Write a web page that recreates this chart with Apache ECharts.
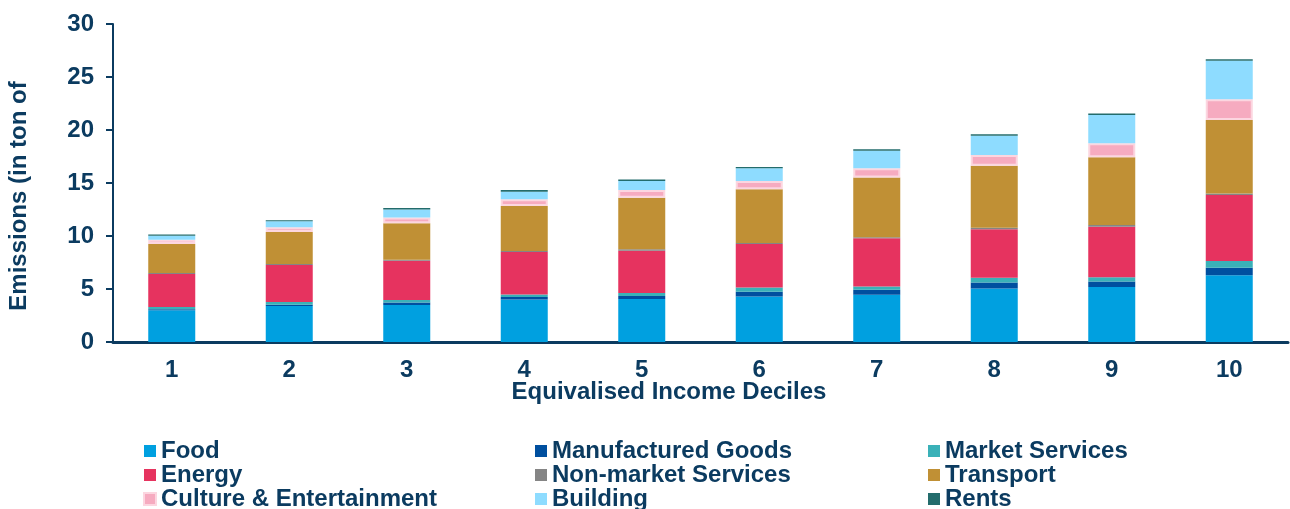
<!DOCTYPE html>
<html>
<head>
<meta charset="utf-8">
<style>
  html, body { margin: 0; padding: 0; background: #ffffff; }
  #chart { width: 1290px; height: 509px; }
</style>
<script src="https://cdn.jsdelivr.net/npm/echarts@6/dist/echarts.min.js"></script>
</head>
<body>
<div id="chart"></div>
<script>
// Household emissions by equivalised income decile, split by consumption category
const deciles = ['1', '2', '3', '4', '5', '6', '7', '8', '9', '10'];
const yTicks = { min: 0, max: 30, interval: 5 };

const food          = [3.00, 3.40, 3.50, 4.00, 4.05, 4.30, 4.45, 5.05, 5.20, 6.30];
const manufactured  = [0.10, 0.12, 0.22, 0.25, 0.30, 0.44, 0.47, 0.57, 0.50, 0.70];
const marketServ    = [0.20, 0.25, 0.25, 0.22, 0.28, 0.41, 0.31, 0.44, 0.41, 0.63];
const energy        = [3.12, 3.49, 3.70, 4.02, 3.99, 4.10, 4.55, 4.57, 4.77, 6.24];
const nonMarketServ = [0.10, 0.10, 0.10, 0.10, 0.12, 0.10, 0.10, 0.15, 0.15, 0.15];
const transport     = [2.73, 3.02, 3.43, 4.24, 4.87, 5.05, 5.65, 5.85, 6.39, 6.92];
const culture       = [0.40, 0.45, 0.55, 0.63, 0.72, 0.79, 0.85, 1.00, 1.32, 1.95];
const building      = [0.38, 0.55, 0.75, 0.72, 0.85, 1.19, 1.66, 1.82, 2.67, 3.64];
const rents         = [0.10, 0.10, 0.13, 0.15, 0.15, 0.12, 0.15, 0.15, 0.15, 0.15];

const navy = '#0b3b60';
const font = '"Liberation Sans", Arial, sans-serif';

const categories = [
  { name: 'Food',                    data: food,          color: '#00a0e0' },
  { name: 'Manufactured Goods',      data: manufactured,  color: '#004f9f' },
  { name: 'Market Services',         data: marketServ,    color: '#3ab1b8' },
  { name: 'Energy',                  data: energy,        color: '#e6335f' },
  { name: 'Non-market Services',     data: nonMarketServ, color: '#858585' },
  { name: 'Transport',               data: transport,     color: '#c09035' },
  { name: 'Culture & Entertainment', data: culture,       color: '#f6abc0', border: '#fcd6e0' },
  { name: 'Building',                data: building,      color: '#8edcff' },
  { name: 'Rents',                   data: rents,         color: '#236c6c' }
];

const series = categories.map(c => ({
  name: c.name,
  type: 'bar',
  stack: 'total',
  barWidth: 47,
  data: c.data,
  itemStyle: c.border
    ? { color: c.color, borderColor: c.border, borderWidth: 2 }
    : { color: c.color },
  emphasis: { disabled: true }
}));

// three legend columns, filled row by row
const legendCols = [
  { left: 143, names: ['Food', 'Energy', 'Culture & Entertainment'] },
  { left: 535, names: ['Manufactured Goods', 'Non-market Services', 'Building'] },
  { left: 928, names: ['Market Services', 'Transport', 'Rents'] }
];
const legends = legendCols.map(col => ({
  data: col.names,
  orient: 'vertical',
  left: col.left,
  top: 439,
  height: 120,
  itemWidth: 12,
  itemHeight: 12,
  itemGap: 0,
  padding: 0,
  icon: 'rect',
  selectedMode: false,
  textStyle: {
    color: navy, fontFamily: font, fontWeight: 'bold', fontSize: 24, lineHeight: 22
  }
}));

const chart = echarts.init(document.getElementById('chart'), null, { renderer: 'canvas' });
chart.setOption({
  animation: false,
  backgroundColor: '#ffffff',
  grid: { left: 113, right: 2, top: 24, bottom: 167, containLabel: false },
  legend: legends,
  xAxis: {
    type: 'category',
    data: deciles,
    axisLine: { show: true, lineStyle: { color: navy, width: 3 } },
    axisTick: { show: false },
    axisLabel: {
      color: navy, fontFamily: font, fontWeight: 'bold', fontSize: 24, margin: 16
    }
  },
  yAxis: {
    type: 'value',
    min: yTicks.min,
    max: yTicks.max,
    interval: yTicks.interval,
    splitLine: { show: false },
    axisLine: { show: true, lineStyle: { color: navy, width: 2 } },
    axisTick: { show: true, length: 7, lineStyle: { color: navy, width: 2 } },
    axisLabel: {
      color: navy, fontFamily: font, fontWeight: 'bold', fontSize: 24, margin: 19
    }
  },
  graphic: [
    {
      type: 'text',
      x: 669, y: 392,
      style: {
        text: 'Equivalised Income Deciles',
        fill: navy, font: 'bold 24px ' + font,
        align: 'center', verticalAlign: 'middle'
      }
    },
    {
      type: 'text',
      x: 19, y: 196,
      rotation: Math.PI / 2,
      style: {
        text: 'Emissions (in ton of',
        fill: navy, font: 'bold 24px ' + font,
        align: 'center', verticalAlign: 'middle'
      }
    }
  ],
  series: series
});
</script>
</body>
</html>
